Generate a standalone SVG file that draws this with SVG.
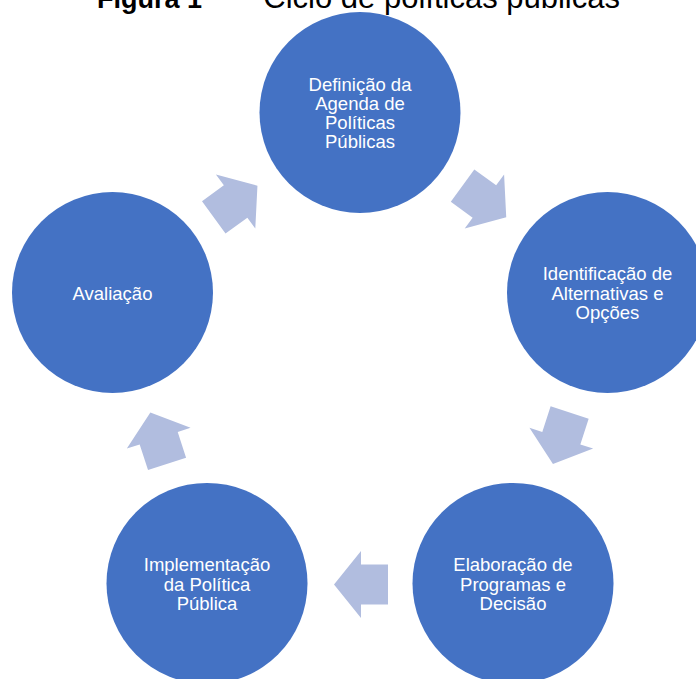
<svg xmlns="http://www.w3.org/2000/svg" width="696" height="679" viewBox="0 0 696 679">
<style>
.node{fill:#4472C4;}
.lbl{font-family:"Liberation Sans",Arial,sans-serif;font-size:18.5px;fill:#FFFFFF;text-anchor:middle;}
.arr{fill:#B1BDDF;}
.title{font-family:"Liberation Sans",Arial,sans-serif;fill:#000000;}
</style>
<defs>
<polygon id="arrow" points="-27,-20 0,-20 0,-33.5 27,0 0,33.5 0,20 -27,20"/>
</defs>
<rect width="696" height="679" fill="#FFFFFF"/>
<g id="title">
<text class="title" x="97" y="7.5" font-size="27" font-weight="bold">Figura 1</text>
<text class="title" x="234" y="2" font-size="31">–</text>
<text class="title" x="620" y="7.5" font-size="31" text-anchor="end">Ciclo de políticas públicas</text>
</g>
<g id="connectors">
<use href="#arrow" class="arr" transform="translate(484.4,201.5) rotate(36)"/>
<use href="#arrow" class="arr" transform="translate(561.3,438.2) rotate(108)"/>
<use href="#arrow" class="arr" transform="translate(361,584.5) rotate(180)"/>
<use href="#arrow" class="arr" transform="translate(158.7,438.2) rotate(252)"/>
<use href="#arrow" class="arr" transform="translate(235.6,201.5) rotate(324)"/>
</g>
<g id="node-agenda">
<circle class="node" cx="360" cy="112.5" r="100.5"/>
<text class="lbl"><tspan x="360" y="90.5">Definição da</tspan><tspan x="360" y="109.8">Agenda de</tspan><tspan x="360" y="129.1">Políticas</tspan><tspan x="360" y="148.4">Públicas</tspan></text>
</g>
<g id="node-alternativas">
<circle class="node" cx="607.5" cy="292.5" r="100.5"/>
<text class="lbl"><tspan x="607.5" y="280.2">Identificação de</tspan><tspan x="607.5" y="299.5">Alternativas e</tspan><tspan x="607.5" y="318.8">Opções</tspan></text>
</g>
<g id="node-elaboracao">
<circle class="node" cx="513" cy="583.4" r="100.5"/>
<text class="lbl"><tspan x="513" y="571.3">Elaboração de</tspan><tspan x="513" y="590.6">Programas e</tspan><tspan x="513" y="609.9">Decisão</tspan></text>
</g>
<g id="node-implementacao">
<circle class="node" cx="207" cy="583.4" r="100.5"/>
<text class="lbl"><tspan x="207" y="571.3">Implementação</tspan><tspan x="207" y="590.6">da Política</tspan><tspan x="207" y="609.9">Pública</tspan></text>
</g>
<g id="node-avaliacao">
<circle class="node" cx="112.5" cy="292.5" r="100.5"/>
<text class="lbl" x="112.5" y="299.5">Avaliação</text>
</g>
</svg>
